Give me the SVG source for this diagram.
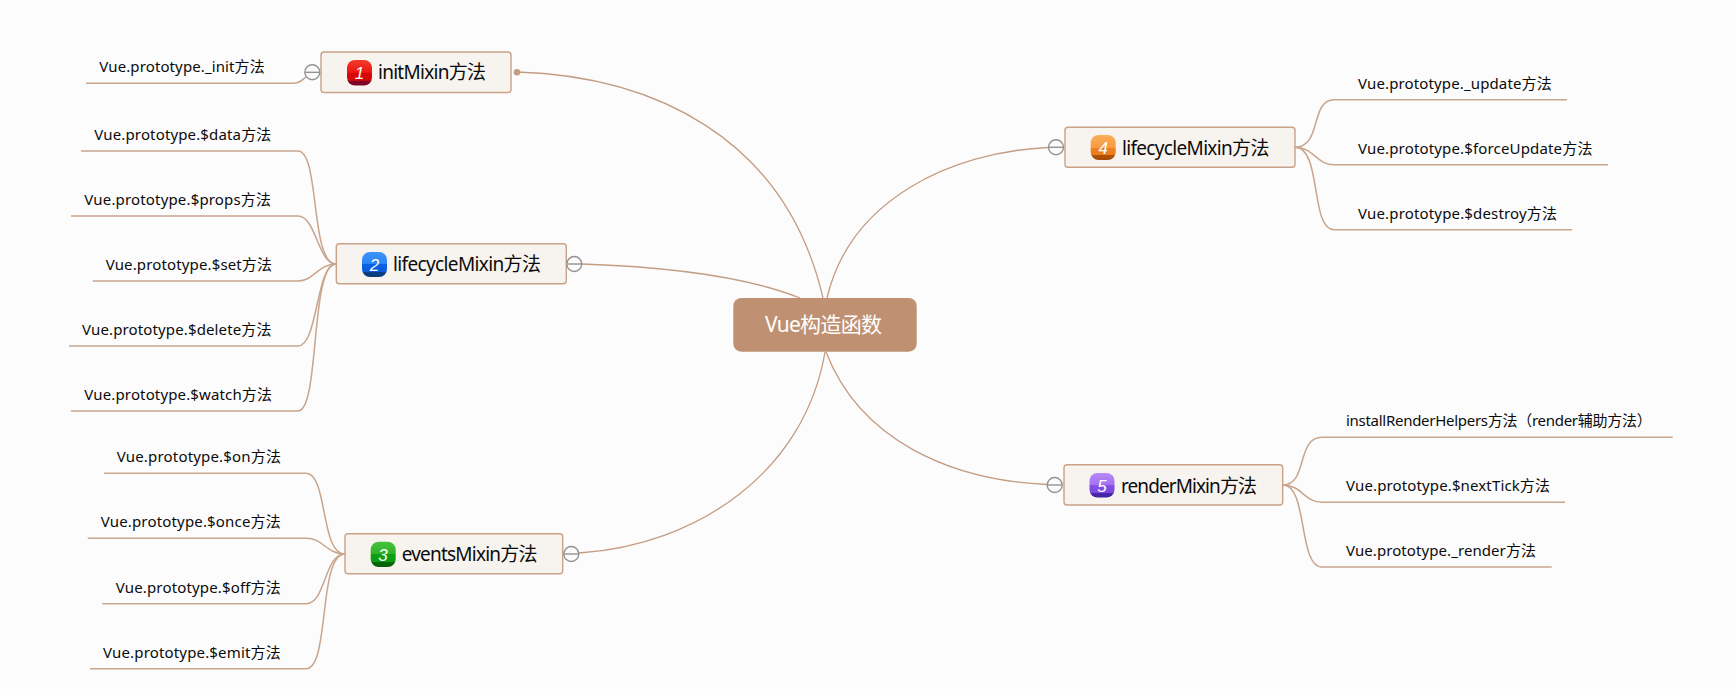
<svg xmlns="http://www.w3.org/2000/svg" width="1736" height="689" viewBox="0 0 1736 689">
<style>
text{font-family:"Noto Sans","Noto Sans CJK SC",sans-serif;fill:#0b0b0b}
.leaf{font-size:15px}
.topic{font-size:19px}
.root{font-size:21px;fill:#fff}
.box{fill:#f7f3ee;stroke:#c9a287;stroke-width:1.4}
.main{fill:none;stroke:#c49c82;stroke-width:1.3}
.sub{fill:none;stroke:#c9a58c;stroke-width:1.5}
.num{font-family:"Liberation Sans",sans-serif;font-size:17px;font-style:italic;fill:#fff;text-anchor:middle}
.c{fill:#fcfcfc;stroke:#929292;stroke-width:1.4}
.m{stroke:#929292;stroke-width:1.4}
</style>
<defs>
<linearGradient id="g1" x1="0" y1="0" x2="0" y2="1"><stop offset="0" stop-color="#f23c2c"/><stop offset=".5" stop-color="#ea1410"/><stop offset=".5" stop-color="#d80808"/><stop offset=".8" stop-color="#d20a0a"/><stop offset=".82" stop-color="#80062a"/><stop offset="1" stop-color="#7a0628"/></linearGradient>
<linearGradient id="g2" x1="0" y1="0" x2="0" y2="1"><stop offset="0" stop-color="#3c94fa"/><stop offset=".5" stop-color="#2a84f4"/><stop offset=".5" stop-color="#0c62e4"/><stop offset=".8" stop-color="#0a5cd8"/><stop offset=".82" stop-color="#0a3f84"/><stop offset="1" stop-color="#0a3a78"/></linearGradient>
<linearGradient id="g3" x1="0" y1="0" x2="0" y2="1"><stop offset="0" stop-color="#48c13c"/><stop offset=".5" stop-color="#30b028"/><stop offset=".5" stop-color="#0ea014"/><stop offset=".8" stop-color="#0c9a12"/><stop offset=".82" stop-color="#056806"/><stop offset="1" stop-color="#056005"/></linearGradient>
<linearGradient id="g4" x1="0" y1="0" x2="0" y2="1"><stop offset="0" stop-color="#fbae5a"/><stop offset=".5" stop-color="#f79a40"/><stop offset=".5" stop-color="#ef8222"/><stop offset=".8" stop-color="#ea7c1c"/><stop offset=".82" stop-color="#ad5008"/><stop offset="1" stop-color="#a64a05"/></linearGradient>
<linearGradient id="g5" x1="0" y1="0" x2="0" y2="1"><stop offset="0" stop-color="#b78af8"/><stop offset=".5" stop-color="#a470f2"/><stop offset=".5" stop-color="#8450e8"/><stop offset=".8" stop-color="#7c4ae0"/><stop offset=".82" stop-color="#4c26ae"/><stop offset="1" stop-color="#4622a4"/></linearGradient>
<g id="collapse"><circle class="c" r="7.5"/><line class="m" x1="-7" x2="7"/></g>
</defs>
<rect width="1736" height="689" fill="#fcfcfc"/>
<g id="connectors">
<path class="main" d="M517 72C650 76 785 135 823 298"/>
<path class="main" d="M582 264C670 267 745 276 800 298"/>
<path class="main" d="M579 553C700 545 805 470 825 352"/>
<path class="main" d="M1048 147.5C950 152 850 200 827 298"/>
<path class="main" d="M1047 484.5C950 480 860 440 826 352"/>
<path class="sub" d="M86 83.3H293C300 83.3 302 80 306 77"/>
<path class="sub" d="M81 151H298C320 151 310 264 336 264"/>
<path class="sub" d="M71 216H298C316 216 318 264 336 264"/>
<path class="sub" d="M92.700 281H298C314 281 318 264 336 264"/>
<path class="sub" d="M69 346H298C318 346 316 264 336 264"/>
<path class="sub" d="M71 411H298C320 411 310 264 336 264"/>
<path class="sub" d="M104 473.300H306C328 473.300 320 554 345 554"/>
<path class="sub" d="M87.700 538.300H306C324 538.300 326 554 345 554"/>
<path class="sub" d="M102.300 603.700H306C326 603.700 324 554 345 554"/>
<path class="sub" d="M90 668.700H306C330 668.700 318 554 345 554"/>
<path class="sub" d="M1295 147.300C1322 147.300 1310 99.700 1334 99.700H1567"/>
<path class="sub" d="M1295 147.300C1314 147.300 1316 164.700 1334 164.700H1608"/>
<path class="sub" d="M1295 147.300C1322 147.300 1310 229.700 1334 229.700H1572"/>
<path class="sub" d="M1283 485C1308 485 1296 437.300 1322 437.300H1672.700"/>
<path class="sub" d="M1283 485C1302 485 1304 502.300 1322 502.300H1565"/>
<path class="sub" d="M1283 485C1308 485 1298 567 1322 567H1551.700"/>
</g>
<g id="root"><rect x="733.300" y="298" width="183.400" height="53.700" rx="8" fill="#bf9172"/><text class="root" x="765" y="332" textLength="117">Vue构造函数</text></g>
<g id="node1"><rect class="box" x="321" y="52" width="190" height="40.500" rx="3"/><rect x="347" y="60" width="25" height="25.500" rx="8" fill="url(#g1)"/><text class="num" x="359.500" y="78.500">1</text><text class="topic" x="378" y="79" textLength="108">initMixin方法</text><use href="#collapse" x="312.300" y="72.300"/><circle cx="517" cy="72.300" r="3.300" fill="#c49c82"/></g>
<g id="node2"><rect class="box" x="336.300" y="243.700" width="230" height="40" rx="3"/><rect x="362" y="252" width="25" height="25" rx="8" fill="url(#g2)"/><text class="num" x="374.500" y="270.500">2</text><text class="topic" x="393" y="271" textLength="148">lifecycleMixin方法</text><use href="#collapse" x="574.300" y="264"/></g>
<g id="node3"><rect class="box" x="345" y="533.700" width="217.700" height="40" rx="3"/><rect x="370.700" y="541.700" width="25" height="25.300" rx="8" fill="url(#g3)"/><text class="num" x="383" y="560.500">3</text><text class="topic" x="401.700" y="561" textLength="135.800">eventsMixin方法</text><use href="#collapse" x="571.300" y="554"/></g>
<g id="node4"><rect class="box" x="1065" y="127.300" width="230" height="40" rx="3"/><rect x="1090.700" y="135" width="25" height="25" rx="8" fill="url(#g4)"/><text class="num" x="1103.200" y="153.500">4</text><text class="topic" x="1122" y="155" textLength="147.400">lifecycleMixin方法</text><use href="#collapse" x="1056" y="147.300"/></g>
<g id="node5"><rect class="box" x="1064" y="464.700" width="218.700" height="40.300" rx="3"/><rect x="1089.500" y="473" width="25" height="24.500" rx="8" fill="url(#g5)"/><text class="num" x="1102" y="491.500">5</text><text class="topic" x="1121" y="493" textLength="136">renderMixin方法</text><use href="#collapse" x="1054.700" y="485"/></g>
<g id="leaf-init"><text class="leaf" x="99.300" y="71.500" textLength="165.400">Vue.prototype._init方法</text></g>
<g id="leaf-data"><text class="leaf" x="94.300" y="140" textLength="177">Vue.prototype.$data方法</text></g>
<g id="leaf-props"><text class="leaf" x="84.300" y="205" textLength="186.700">Vue.prototype.$props方法</text></g>
<g id="leaf-set"><text class="leaf" x="105.700" y="270" textLength="166.300">Vue.prototype.$set方法</text></g>
<g id="leaf-delete"><text class="leaf" x="82" y="335" textLength="189.500">Vue.prototype.$delete方法</text></g>
<g id="leaf-watch"><text class="leaf" x="84.300" y="400" textLength="187.700">Vue.prototype.$watch方法</text></g>
<g id="leaf-on"><text class="leaf" x="116.700" y="462" textLength="164.300">Vue.prototype.$on方法</text></g>
<g id="leaf-once"><text class="leaf" x="100.700" y="527" textLength="180">Vue.prototype.$once方法</text></g>
<g id="leaf-off"><text class="leaf" x="115.700" y="592.500" textLength="165">Vue.prototype.$off方法</text></g>
<g id="leaf-emit"><text class="leaf" x="103" y="657.500" textLength="177.700">Vue.prototype.$emit方法</text></g>
<g id="leaf-update"><text class="leaf" x="1358" y="89" textLength="193.700">Vue.prototype._update方法</text></g>
<g id="leaf-force"><text class="leaf" x="1358" y="154" textLength="234.400">Vue.prototype.$forceUpdate方法</text></g>
<g id="leaf-destroy"><text class="leaf" x="1358" y="219" textLength="199">Vue.prototype.$destroy方法</text></g>
<g id="leaf-helpers"><text class="leaf" x="1346" y="426" textLength="305.700">installRenderHelpers方法（render辅助方法）</text></g>
<g id="leaf-tick"><text class="leaf" x="1346" y="491" textLength="204">Vue.prototype.$nextTick方法</text></g>
<g id="leaf-render"><text class="leaf" x="1346" y="556" textLength="190">Vue.prototype._render方法</text></g>
</svg>
